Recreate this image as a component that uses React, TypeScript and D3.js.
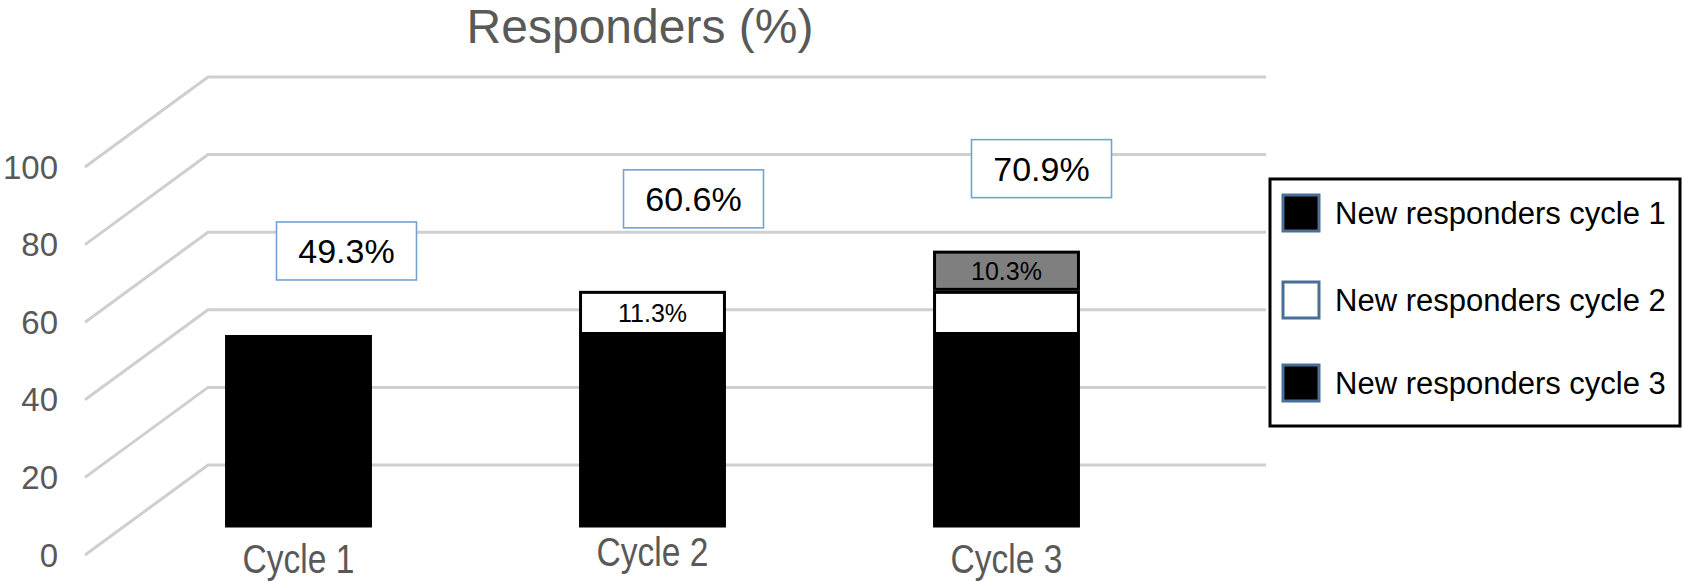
import React from 'react';
import * as d3 from 'd3';

// data
const categories = ['Cycle 1', 'Cycle 2', 'Cycle 3'];
const seriesNames = ['New responders cycle 1', 'New responders cycle 2', 'New responders cycle 3'];
const cycle1 = [49.3, 49.3, 49.3];
const cycle2 = [0, 11.3, 11.3];
const cycle3 = [0, 0, 10.3];
const totalLabels = ['49.3%', '60.6%', '70.9%'];
const cycle2Labels = ['', '11.3%', ''];
const cycle3Labels = ['', '', '10.3%'];
const yTicks = [0, 20, 40, 60, 80, 100];

const W = 1682;
const H = 581;
const grey = '#595959';
const font = '"Liberation Sans", Arial, sans-serif';

// 3d look: gridlines start at the front and bend back to the wall
const depthX = 123;
const depthY = -90;
const wallRight = 1266;

const App = () => {
  const yFront = d3.scaleLinear().domain([0, 100]).range([555, 167]);
  const yBar = d3.scaleLinear().domain([0, 100]).range([527.5, 137]);
  const x = d3.scaleBand().domain(categories).range([121.5, 1183.5]).paddingInner(0.585).paddingOuter(0.2925);

  const rows = categories.map((c, i) => ({ cat: c, s1: cycle1[i], s2: cycle2[i], s3: cycle3[i] }));
  const stack = d3.stack<any>().keys(['s1', 's2', 's3'])(rows);
  const fills = ['#000000', '#ffffff', '#7f7f7f'];
  const strokes = ['none', '#000000', '#000000'];
  const segLabels = [categories.map(() => ''), cycle2Labels, cycle3Labels];
  const totals = categories.map((_, i) => cycle1[i] + cycle2[i] + cycle3[i]);

  // hand placed callouts in the original
  const boxNudge = [[48, -84], [41, -92], [35, -82]];
  const catNudge = [0, -7, 0];

  const legendX = 1270, legendY = 179;
  const legendRowY = [213, 300, 383];
  const swatchFill = ['#000000', '#ffffff', '#000000'];

  return (
    <svg width={W} height={H} style={{ position: 'absolute', left: 0, top: 0, background: '#fff' }}>
      <text x={640} y={43} textAnchor="middle" fontFamily={font} fontSize={48} fill={grey}>
        Responders (%)
      </text>

      {yTicks.map(t => {
        const fy = yFront(t);
        return (
          <g key={t}>
            <polyline
              points={`85,${fy} ${85 + depthX},${fy + depthY} ${wallRight},${fy + depthY}`}
              fill="none"
              stroke="#cfcfcf"
              strokeWidth={3}
            />
            <text x={58} y={fy} dy="0.35em" textAnchor="end" fontFamily={font} fontSize={33} fill={grey}>
              {t}
            </text>
          </g>
        );
      })}

      {stack.map((layer, si) => (
        <g key={si}>
          {layer.map((d, i) => {
            const h = yBar(d[0]) - yBar(d[1]);
            if (h <= 0) return null;
            const bx = x(categories[i])!;
            const sw = strokes[si] === 'none' ? 0 : 3;
            return (
              <g key={i}>
                <rect
                  x={bx + sw / 2}
                  y={yBar(d[1]) + sw / 2}
                  width={x.bandwidth() - sw}
                  height={h - sw}
                  fill={fills[si]}
                  stroke={strokes[si]}
                  strokeWidth={sw}
                />
                {segLabels[si][i] && (
                  <text
                    x={bx + x.bandwidth() / 2}
                    y={(yBar(d[0]) + yBar(d[1])) / 2}
                    dy="0.36em"
                    textAnchor="middle"
                    fontFamily={font}
                    fontSize={25}
                    fill="#000"
                  >
                    {segLabels[si][i]}
                  </text>
                )}
              </g>
            );
          })}
        </g>
      ))}

      {categories.map((c, i) => {
        const cx = x(c)! + x.bandwidth() / 2 + boxNudge[i][0];
        const cy = yBar(totals[i]) + boxNudge[i][1];
        return (
          <g key={c}>
            <rect x={cx - 70} y={cy - 29} width={140} height={58} fill="#fff" stroke="#72a3d1" strokeWidth={1.6} />
            <text x={cx} y={cy} dy="0.36em" textAnchor="middle" fontFamily={font} fontSize={34} fill="#000">
              {totalLabels[i]}
            </text>
          </g>
        );
      })}

      {categories.map((c, i) => {
        const cx = x(c)! + x.bandwidth() / 2;
        const by = 573 + catNudge[i];
        return (
          <text
            key={c}
            transform={`translate(${cx},${by}) scale(0.84,1)`}
            textAnchor="middle"
            fontFamily={font}
            fontSize={40}
            fill={grey}
          >
            {c}
          </text>
        );
      })}

      <rect x={legendX} y={legendY} width={410} height={247} fill="#fff" stroke="#000" strokeWidth={3} />
      {seriesNames.map((s, i) => (
        <g key={s}>
          <rect
            x={legendX + 13}
            y={legendRowY[i] - 18}
            width={36}
            height={36}
            fill={swatchFill[i]}
            stroke="#4a6f96"
            strokeWidth={3}
          />
          <text x={legendX + 65} y={legendRowY[i]} dy="0.35em" fontFamily={font} fontSize={31} fill="#000">
            {s}
          </text>
        </g>
      ))}
    </svg>
  );
};

export default App;
